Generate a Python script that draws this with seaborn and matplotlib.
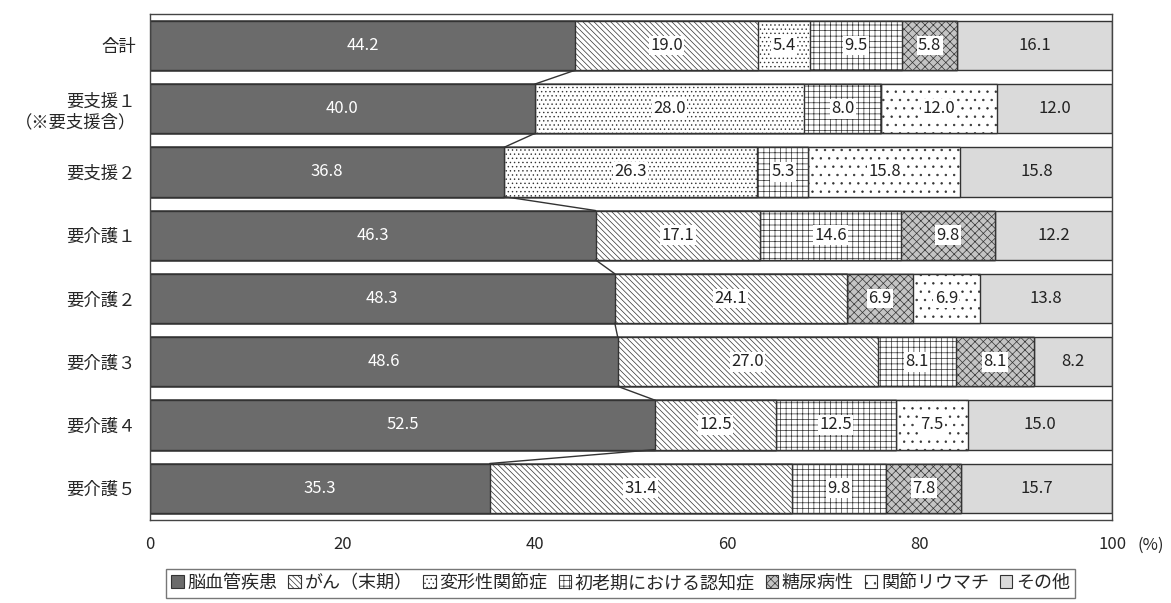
import matplotlib
matplotlib.use("Agg")
import matplotlib.pyplot as plt
import seaborn as sns
import numpy as np
from matplotlib.patches import Patch

# care level categories (top to bottom)
categories = ["合計", "要支援１\n（※要支援含）", "要支援２", "要介護１",
              "要介護２", "要介護３", "要介護４", "要介護５"]

# share of each cause (%)
cerebro = [44.2, 40.0, 36.8, 46.3, 48.3, 48.6, 52.5, 35.3]
cancer = [19.0, 0.0, 0.0, 17.1, 24.1, 27.0, 12.5, 31.4]
arthrosis = [5.4, 28.0, 26.3, 0.0, 0.0, 0.0, 0.0, 0.0]
dementia = [9.5, 8.0, 5.3, 14.6, 0.0, 8.1, 12.5, 9.8]
diabetes = [5.8, 0.0, 0.0, 9.8, 6.9, 8.1, 0.0, 7.8]
rheuma = [0.0, 12.0, 15.8, 0.0, 6.9, 0.0, 7.5, 0.0]
other = [16.1, 12.0, 15.8, 12.2, 13.8, 8.2, 15.0, 15.7]

series_names = ["脳血管疾患", "がん（末期）", "変形性関節症", "初老期における認知症",
                "糖尿病性", "関節リウマチ", "その他"]
series_vals = [cerebro, cancer, arthrosis, dementia, diabetes, rheuma, other]
xticks = [0, 20, 40, 60, 80, 100]

faces = ["#6b6b6b", "white", "white", "white", "#c4c4c4", "white", "#dadada"]
hatches = [None, "\\\\\\\\\\\\", "....", "+++", "xxxx", ". .", None]
boxed = [False, True, True, True, True, True, False]

sns.set_style("white")
plt.rcParams["font.family"] = ["Noto Sans CJK JP", "DejaVu Sans"]
plt.rcParams["hatch.linewidth"] = 0.5

fig = plt.figure(figsize=(11.71, 6.03), dpi=100)
ax = fig.add_axes([0.128, 0.138, 0.822, 0.839])

vals = np.array(series_vals)
cum = np.cumsum(vals, axis=0)
bar_w = 0.78

# draw cumulative totals from the longest down, so each segment shows
for k in range(len(series_names) - 1, -1, -1):
    sns.barplot(x=cum[k], y=categories, orient="h", color=faces[k], saturation=1,
                hatch=hatches[k], edgecolor="#333333", linewidth=1.0,
                width=bar_w, ax=ax)

# series lines between the cerebrovascular segments
for i in range(len(categories) - 1):
    ax.plot([cerebro[i], cerebro[i + 1]], [i + bar_w / 2, i + 1 - bar_w / 2],
            color="#333333", lw=1.0)

# value labels
for k in range(len(series_names)):
    for i in range(len(categories)):
        v = vals[k, i]
        if v <= 0:
            continue
        xc = cum[k, i] - v / 2
        if k == 0:
            ax.text(xc, i, f"{v:.1f}", ha="center", va="center", color="white", fontsize=12)
        elif boxed[k]:
            ax.text(xc, i, f"{v:.1f}", ha="center", va="center", color="#222222", fontsize=12,
                    bbox=dict(facecolor="white", edgecolor="none", pad=1.0))
        else:
            ax.text(xc, i, f"{v:.1f}", ha="center", va="center", color="#222222", fontsize=12)

ax.set_xlim(0, 100)
ax.set_ylim(len(categories) - 0.5, -0.5)
ax.set_xticks(xticks)
ax.set_xticklabels([str(t) for t in xticks], fontsize=12)
ax.annotate("(%)", xy=(100, 0), xycoords=("data", "axes fraction"),
            xytext=(18, -12), textcoords="offset points", ha="left", va="top", fontsize=12)
ax.tick_params(axis="y", labelsize=12.5, length=0, pad=10)
ax.tick_params(axis="x", length=0, pad=12)
ax.set_xlabel("")
ax.set_ylabel("")
for s in ax.spines.values():
    s.set_color("#444444")
    s.set_linewidth(1.0)

handles = [Patch(facecolor=faces[k], hatch=hatches[k], edgecolor="#333333", linewidth=0.8)
           for k in range(len(series_names))]
leg = fig.legend(handles, series_names, loc="center", bbox_to_anchor=(0.53, 0.033),
                 ncol=7, fontsize=13, handlelength=0.7, handleheight=0.7,
                 handletextpad=0.2, columnspacing=0.6, frameon=True, fancybox=False,
                 borderpad=0.3)
leg.get_frame().set_edgecolor("#555555")

fig.savefig("out.png", dpi=100)
